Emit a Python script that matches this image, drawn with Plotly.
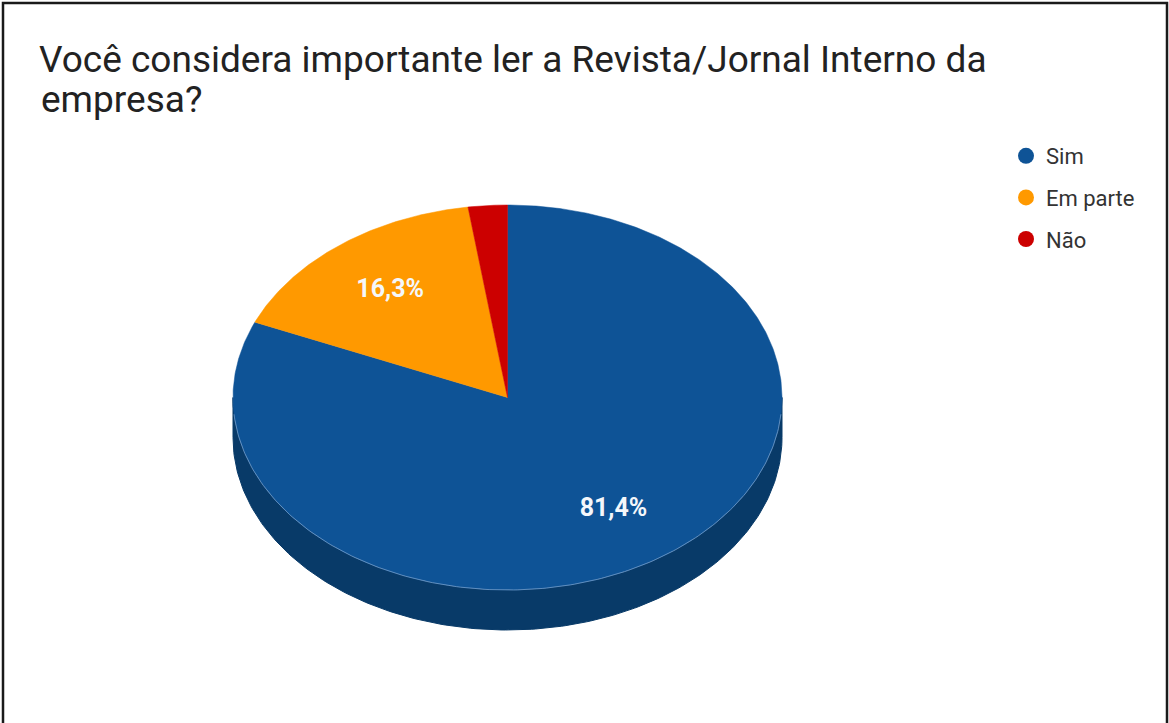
import numpy as np
import plotly.graph_objects as go

# ---- data ----
categories = ["Sim", "Em parte", "Não"]
values = [81.4, 16.3, 2.3]
labels_txt = ["<b>81,4%</b>", "<b>16,3%</b>", ""]
colors = ["#0e5396", "#ff9900", "#cc0000"]
side_colors = ["#083a68", "#b36b00", "#8f0000"]
title_line1 = "Você considera importante ler a Revista/Jornal Interno da"
title_line2 = "empresa?"

W, H = 1169, 723
# pie geometry (pixel space)
cx, cy = 507.5, 397.5
rx, ry = 274.5, 192.5
depth = 40

def pt(theta_deg, f=1.0, dy=0.0):
    t = np.radians(theta_deg)
    return cx + rx * f * np.sin(t), cy - ry * f * np.cos(t) + dy

fig = go.Figure()

total = sum(values)
starts = np.cumsum([0] + values[:-1]) / total * 360
ends = np.cumsum(values) / total * 360

# side walls (front half: 90..270 deg clockwise from top)
for i in range(len(values)):
    a0, a1 = max(starts[i], 90), min(ends[i], 270)
    if a1 <= a0:
        continue
    th = np.linspace(a0, a1, 200)
    xs_top, ys_top = pt(th)
    xs_bot, ys_bot = pt(th[::-1], dy=depth)
    xs = np.concatenate([xs_top, xs_bot, xs_top[:1]])
    ys = np.concatenate([ys_top, ys_bot, ys_top[:1]])
    fig.add_trace(go.Scatter(x=xs, y=ys, fill="toself", mode="lines",
                             line=dict(color=side_colors[i], width=1),
                             fillcolor=side_colors[i], showlegend=False,
                             hoverinfo="skip"))

# top faces
for i in range(len(values)):
    th = np.linspace(starts[i], ends[i], max(int((ends[i] - starts[i]) * 2), 4))
    xs_a, ys_a = pt(th)
    xs = np.concatenate([[cx], xs_a, [cx]])
    ys = np.concatenate([[cy], ys_a, [cy]])
    fig.add_trace(go.Scatter(x=xs, y=ys, fill="toself", mode="lines",
                             line=dict(color=colors[i], width=0.5),
                             fillcolor=colors[i], showlegend=False,
                             name=categories[i], hoverinfo="name"))

# subtle highlight on front rim
th = np.linspace(95, 265, 200)
hx, hy = pt(th)
fig.add_trace(go.Scatter(x=hx, y=hy, mode="lines",
                         line=dict(color="rgba(150,185,225,0.6)", width=1),
                         showlegend=False, hoverinfo="skip"))

# slice labels
mids = (starts + ends) / 2
lx, ly = pt(mids, f=0.7)
fig.add_trace(go.Scatter(x=lx, y=ly, mode="text", text=labels_txt,
                         textfont=dict(family="Roboto", size=25, color="#f4f7fb"),
                         showlegend=False, hoverinfo="skip"))

# legend entries
for i, c in enumerate(categories):
    fig.add_trace(go.Scatter(x=[None], y=[None], mode="markers", name=c,
                             legendgroup=c,
                             marker=dict(color=colors[i], size=22, symbol="circle")))

fig.update_layout(
    width=W, height=H,
    margin=dict(l=0, r=0, t=0, b=0),
    paper_bgcolor="white", plot_bgcolor="white",
    xaxis=dict(range=[0, W], visible=False, fixedrange=True),
    yaxis=dict(range=[H, 0], visible=False, fixedrange=True),
    showlegend=True,
    legend=dict(x=1006 / W, y=1 - 135 / H, xanchor="left", yanchor="top",
                font=dict(family="Roboto", size=22, color="#333333"),
                traceorder="grouped", tracegroupgap=10,
                bgcolor="rgba(0,0,0,0)", itemwidth=30),
    title=dict(text=title_line1, x=39 / W, xanchor="left",
               y=1 - 72 / H, yanchor="bottom",
               font=dict(family="Roboto", size=37, color="#222222")),
    annotations=[dict(text=title_line2, xref="paper", yref="paper",
                      x=39 / W, y=1 - 123 / H, xanchor="left", yanchor="bottom",
                      showarrow=False,
                      font=dict(family="Roboto", size=37, color="#222222"))],
    shapes=[dict(type="rect", xref="x", yref="y", x0=3, y0=3, x1=1167, y1=760,
                 line=dict(color="#1a1a1a", width=2.5))],
)

fig.write_html("out.html")
